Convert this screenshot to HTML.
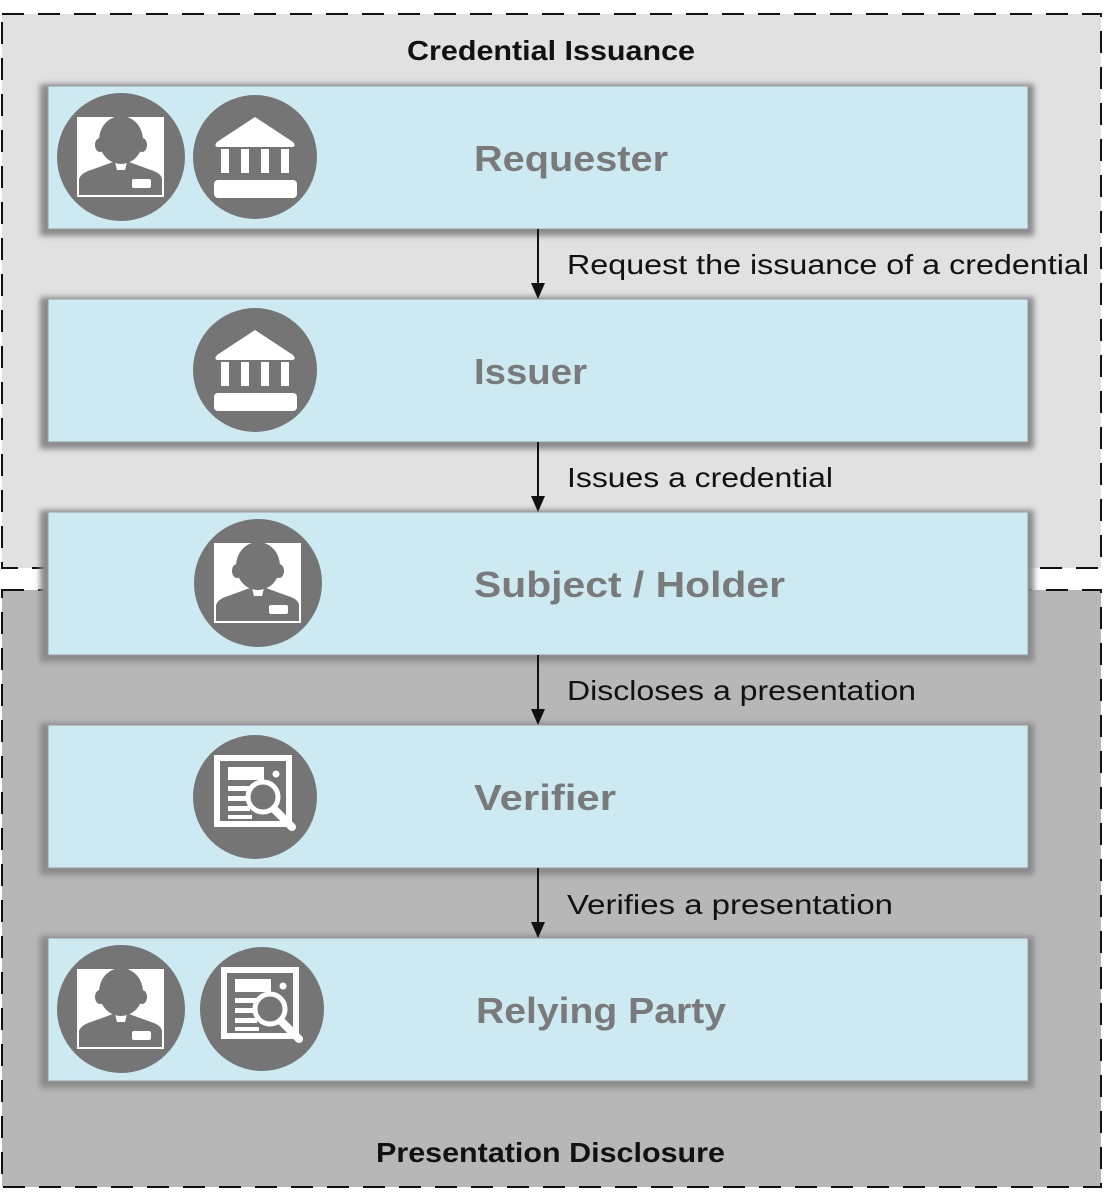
<!DOCTYPE html>
<html><head><meta charset="utf-8"><style>html,body{margin:0;padding:0;background:#fff}svg{display:block}</style></head>
<body>
<svg width="1104" height="1204" viewBox="0 0 1104 1204" xmlns="http://www.w3.org/2000/svg" font-family="'Liberation Sans', sans-serif">
<defs>
<g id="person">
<circle r="64" fill="#757575"/>
<rect x="-44" y="-40" width="87" height="80" fill="#fff"/>
<path d="M-42 38 L-42 22 Q-40 16 -30 13 L-8 5 L8 5 L30 13 Q40 16 41 22 L41 38 Z" fill="#757575"/>
<path d="M-6 5 L6 5 L4 13 L-4 13 Z" fill="#fff"/>
<ellipse cx="0" cy="-17" rx="22" ry="24" fill="#757575"/>
<ellipse cx="-21" cy="-12" rx="5" ry="7" fill="#757575"/>
<ellipse cx="21" cy="-12" rx="5" ry="7" fill="#757575"/>
<rect x="11" y="22" width="19" height="9" rx="2" fill="#fff"/>
</g>
<g id="bank">
<circle r="62" fill="#757575"/>
<path d="M0 -40 L38 -15 Q42 -10 36 -10 L-36 -10 Q-42 -10 -38 -15 Z" fill="#fff"/>
<rect x="-34" y="-8" width="8" height="24" fill="#fff"/>
<rect x="-14" y="-8" width="8" height="24" fill="#fff"/>
<rect x="6" y="-8" width="8" height="24" fill="#fff"/>
<rect x="26" y="-8" width="8" height="24" fill="#fff"/>
<rect x="-41" y="23" width="83" height="18" rx="4" fill="#fff"/>
</g>
<g id="verif">
<circle r="62" fill="#757575"/>
<rect x="-38" y="-39" width="72" height="66" fill="none" stroke="#fff" stroke-width="6"/>
<rect x="-27" y="-30" width="36" height="13" fill="#fff"/>
<circle cx="21" cy="-23" r="3.5" fill="#fff"/>
<rect x="-27" y="-11" width="24" height="5" fill="#fff"/>
<rect x="-27" y="-1" width="20" height="5" fill="#fff"/>
<rect x="-27" y="9" width="22" height="5" fill="#fff"/>
<rect x="-27" y="18" width="24" height="4" fill="#fff"/>
<circle cx="8" cy="0" r="15" fill="#757575" stroke="#fff" stroke-width="5"/>
<line x1="19" y1="12" x2="37" y2="30" stroke="#fff" stroke-width="8" stroke-linecap="round"/>
</g>
<filter id="sh" x="-5%" y="-10%" width="110%" height="130%"><feGaussianBlur stdDeviation="3"/></filter>
</defs>
<rect x="2" y="14" width="1099" height="554" fill="#e1e1e1" stroke="#111" stroke-width="2" stroke-dasharray="22,14"/>
<rect x="2" y="590" width="1099" height="597" fill="#b7b7b7" stroke="#111" stroke-width="2" stroke-dasharray="22,14"/>
<g fill="#8a8a8a" filter="url(#sh)">
<rect x="40" y="84" width="994" height="152"/>
<rect x="40" y="297" width="994" height="152"/>
<rect x="40" y="510" width="994" height="152"/>
<rect x="40" y="723" width="994" height="152"/>
<rect x="40" y="936" width="994" height="152"/>
</g>
<g fill="#cdeaf3" stroke="#999" stroke-width="1">
<rect x="48" y="86" width="980" height="143"/>
<rect x="48" y="299" width="980" height="143"/>
<rect x="48" y="512" width="980" height="143"/>
<rect x="48" y="725" width="980" height="143"/>
<rect x="48" y="938" width="980" height="143"/>
</g>
<use href="#person" x="121" y="157"/>
<use href="#bank" x="255" y="157"/>
<use href="#bank" x="255" y="370"/>
<use href="#person" x="258" y="583"/>
<use href="#verif" x="255" y="797"/>
<use href="#person" x="121" y="1009"/>
<use href="#verif" x="262" y="1009"/>
<g font-weight="bold" font-size="36" fill="#7a7a7a">
<text x="474" y="171" textLength="194" lengthAdjust="spacingAndGlyphs">Requester</text>
<text x="474" y="384" textLength="113" lengthAdjust="spacingAndGlyphs">Issuer</text>
<text x="474" y="597" textLength="311" lengthAdjust="spacingAndGlyphs">Subject / Holder</text>
<text x="474" y="810" textLength="142" lengthAdjust="spacingAndGlyphs">Verifier</text>
<text x="476" y="1023" textLength="250" lengthAdjust="spacingAndGlyphs">Relying Party</text>
</g>
<g font-weight="bold" font-size="28" fill="#111">
<text x="407" y="60" textLength="288" lengthAdjust="spacingAndGlyphs">Credential Issuance</text>
<text x="376" y="1162" textLength="349" lengthAdjust="spacingAndGlyphs">Presentation Disclosure</text>
</g>
<g stroke="#111" stroke-width="2">
<line x1="538" y1="229" x2="538" y2="284"/>
<line x1="538" y1="442" x2="538" y2="497"/>
<line x1="538" y1="655" x2="538" y2="710"/>
<line x1="538" y1="868" x2="538" y2="923"/>
</g>
<g fill="#111">
<path d="M531 283 L545 283 L538 299 Z"/>
<path d="M531 496 L545 496 L538 512 Z"/>
<path d="M531 709 L545 709 L538 725 Z"/>
<path d="M531 922 L545 922 L538 938 Z"/>
</g>
<g font-size="28" fill="#111">
<text x="567" y="274" textLength="522" lengthAdjust="spacingAndGlyphs">Request the issuance of a credential</text>
<text x="567" y="487" textLength="266" lengthAdjust="spacingAndGlyphs">Issues a credential</text>
<text x="567" y="700" textLength="349" lengthAdjust="spacingAndGlyphs">Discloses a presentation</text>
<text x="567" y="914" textLength="326" lengthAdjust="spacingAndGlyphs">Verifies a presentation</text>
</g>
</svg>
</body></html>
